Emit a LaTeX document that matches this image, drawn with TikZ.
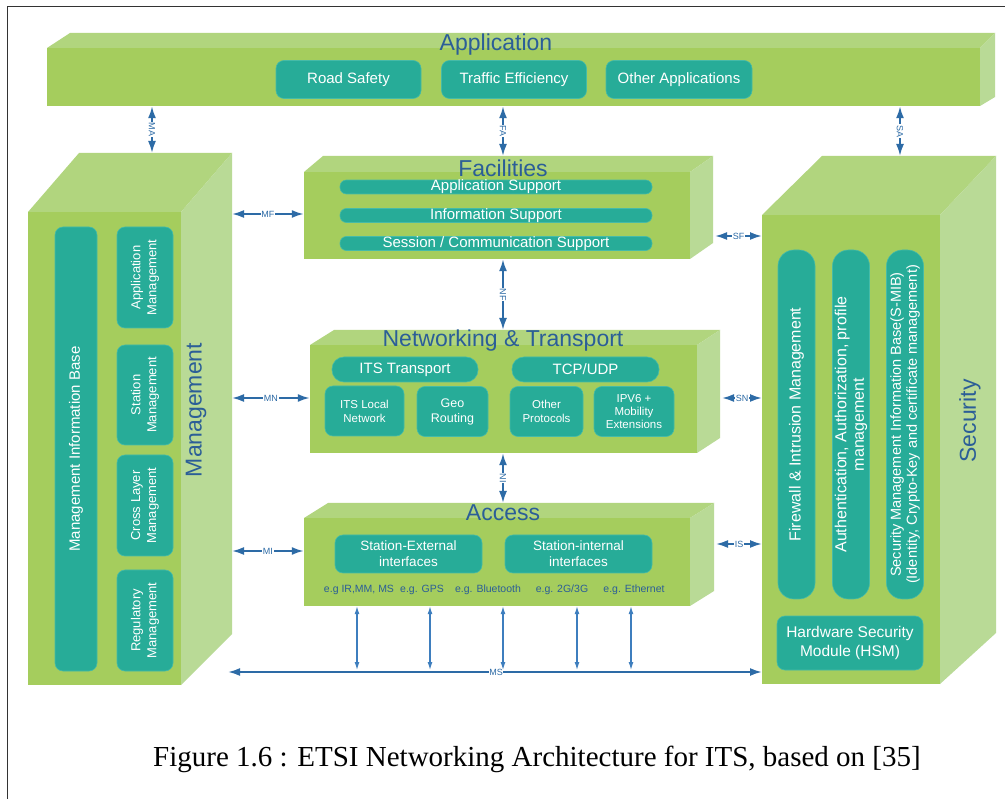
\documentclass[tikz,border=0pt]{standalone}
\usepackage{fontspec}
\setmainfont{Liberation Serif}
\newfontfamily\arial{Liberation Sans}
\usetikzlibrary{arrows.meta}
\definecolor{frontc}{HTML}{A5CD5D}
\definecolor{topc}{HTML}{B1D57E}
\definecolor{sidec}{HTML}{B9DA96}
\definecolor{tealc}{HTML}{27AC98}
\definecolor{tealedge}{HTML}{45BBA8}
\definecolor{titlec}{HTML}{2B5E97}
\definecolor{arrc}{HTML}{2D6BA6}
\definecolor{thinc}{HTML}{3E7EBE}
\newcommand\fs[2]{\fontsize{#1}{#2}\selectfont}
\newcommand\layer[9]{%
  \fill[topc] (#2,#3)--(#6,#8)--(#7,#8)--(#4,#3)--cycle;
  \fill[sidec] (#4,#3)--(#7,#8)--(#7,#9)--(#4,#5)--cycle;
  \node[fill=frontc, inner sep=0pt, minimum width={#4pt-#2pt}, minimum height={#5pt-#3pt}] (#1) at ({(#2+#4)/2},{(#3+#5)/2}) {};
}
\tikzset{
  inbox/.style={fill=tealc, draw=tealedge, line width=0.6pt, rounded corners=8pt, text=white, align=center, inner sep=0pt, font=\arial},
  pill/.style={fill=tealc, draw=tealedge, line width=0.6pt, rounded corners=6.4pt, text=white, align=center, inner sep=0pt, font=\arial\fs{15}{16}},
  ttl/.style={text=titlec, font=\arial\fs{23}{26}},
  arr/.style={draw=arrc, line width=2pt, {Latex[length=12pt,width=8pt]}-{Latex[length=12pt,width=8pt]}},
  thinarr/.style={draw=thinc, line width=1.2pt, {Latex[length=8pt,width=5pt]}-{Latex[length=8pt,width=5pt]}},
  lab/.style={fill=white, text=arrc, inner sep=0.6pt, font=\arial\fs{9}{9}},
  eg/.style={text=titlec, font=\arial\fs{10.5}{12}},
}
\begin{document}
\begin{tikzpicture}[x=1pt,y=-1pt]
\useasboundingbox (0,0) rectangle (1005,799);
\fill[white] (0,0) rectangle (1005,799);
\draw[line width=1.4pt, black!80] (7.5,799) -- (7.5,6.5) -- (1005,6.5);

% Application
\layer{app}{47}{48}{980}{106}{70}{995}{33}{97}
\node[ttl] (appt) at (496,45) {Application};
\node[inbox, font=\arial\fs{15}{17}, minimum width=145pt, minimum height=38pt] (rs) at (348.5,79.5) {Road Safety};
\node[inbox, font=\arial\fs{15}{17}, minimum width=145pt, minimum height=38pt] (te) at (514,79.5) {Traffic Efficiency};
\node[inbox, font=\arial\fs{15}{17}, minimum width=146pt, minimum height=38pt] (oa) at (679,79.5) {Other Applications};

% Management
\layer{mg}{28}{212}{181}{685}{79}{232}{153}{634}
\node[inbox, minimum width=42pt, minimum height=444pt] (mib) at (76,449) {};
\node[text=white, font=\arial\fs{15}{17}, rotate=90] (mibt) at (mib.center) {Management Information Base};
\node[inbox, minimum width=56pt, minimum height=101pt] (amg) at (145,277.5) {};
\node[text=white, align=center, font=\arial\fs{13}{16}, rotate=90] (amgt) at (amg.center) {Application\\Management};
\node[inbox, minimum width=56pt, minimum height=100pt] (smg) at (145,395) {};
\node[text=white, align=center, font=\arial\fs{13}{16}, rotate=90] (smgt) at (smg.center) {Station\\Management};
\node[inbox, minimum width=56pt, minimum height=101pt] (cmg) at (145,505.5) {};
\node[text=white, align=center, font=\arial\fs{13}{16}, rotate=90] (cmgt) at (cmg.center) {Cross Layer\\Management};
\node[inbox, minimum width=56pt, minimum height=101pt] (rmg) at (145,620.5) {};
\node[text=white, align=center, font=\arial\fs{13}{16}, rotate=90] (rmgt) at (rmg.center) {Regulatory\\Management};
\node[ttl, rotate=90] (mgt) at (196,410) {Management};

% Security
\layer{sec}{762}{215}{940}{684}{822}{996}{156}{633}
\node[inbox, rounded corners=16pt, minimum width=37pt, minimum height=349pt] (fw) at (796.5,424.5) {};
\node[text=white, font=\arial\fs{16}{18}, rotate=90] (fwt) at (fw.center) {Firewall \& Intrusion Management};
\node[inbox, rounded corners=16pt, minimum width=37pt, minimum height=349pt] (au) at (851,424.5) {};
\node[text=white, align=center, font=\arial\fs{16}{17.5}, rotate=90] (aut) at (au.center) {Authentication, Authorization, profile\\management};
\node[inbox, rounded corners=16pt, minimum width=37pt, minimum height=349pt] (sm) at (905,424.5) {};
\node[text=white, align=center, font=\arial\fs{14.5}{16}, rotate=90] (smt) at (sm.center) {Security Management Information Base(S-MIB)\\(Identity, Crypto-Key and certificate management)};
\node[inbox, font=\arial\fs{15.5}{19}, minimum width=146pt, minimum height=54pt] (hsm) at (850,643) {Hardware Security\\Module (HSM)};
\node[ttl, rotate=90] (sect) at (970,421) {Security};

% Facilities
\layer{fac}{304}{172}{690}{259}{323}{713}{156}{243}
\node[ttl] (fact) at (503,168) {Facilities};
\node[pill, minimum width=312pt, minimum height=13pt] (as) at (496,187) {Application Support};
\node[pill, minimum width=312pt, minimum height=13pt] (is) at (496,215.5) {Information Support};
\node[pill, minimum width=312pt, minimum height=13pt] (cs) at (496,243.5) {Session / Communication Support};

% Networking & Transport
\layer{net}{310}{345}{697}{453}{334}{720}{330}{438}
\node[ttl] (nett) at (503,341) {Networking \& Transport};
\node[inbox, rounded corners=12pt, font=\arial\fs{15}{17}, minimum width=146pt, minimum height=25pt] (itst) at (405,369.5) {ITS Transport};
\node[inbox, rounded corners=12pt, font=\arial\fs{15}{17}, minimum width=147pt, minimum height=25pt] (tcp) at (585.5,369.5) {TCP/UDP};
\node[inbox, font=\arial\fs{11.5}{14}, minimum width=79pt, minimum height=50pt] (itsl) at (364.5,411) {ITS Local\\Network};
\node[inbox, font=\arial\fs{12.5}{15}, minimum width=71pt, minimum height=50pt] (geo) at (452.5,411.5) {Geo\\Routing};
\node[inbox, font=\arial\fs{11.5}{14}, minimum width=73pt, minimum height=50pt] (oth) at (546.5,411.5) {Other\\Protocols};
\node[inbox, font=\arial\fs{11.5}{13}, minimum width=80pt, minimum height=50pt] (ipv) at (634,411.5) {IPV6 +\\Mobility\\Extensions};

% Access
\layer{acc}{304}{518}{690}{606}{328}{714}{503}{591}
\node[ttl] (acct) at (503,513) {Access};
\node[inbox, font=\arial\fs{13.5}{16}, minimum width=147pt, minimum height=38pt] (sext) at (408.5,554) {Station-External\\interfaces};
\node[inbox, font=\arial\fs{13.5}{16}, minimum width=147pt, minimum height=38pt] (sint) at (578.5,554) {Station-internal\\interfaces};
\node[eg] (eg1) at (359,590) {e.g IR,MM, MS};
\node[eg] (eg2) at (422,590) {e.g. GPS};
\node[eg] (eg3) at (488,590) {e.g. Bluetooth};
\node[eg] (eg4) at (562,590) {e.g. 2G/3G};
\node[eg] (eg5) at (634,590) {e.g. Ethernet};

% connector end points
\coordinate (mgTop) at (152,153);
\coordinate (facTop) at (503,156);
\coordinate (secTop) at (900,156);
\coordinate (mgR1) at (232,214);
\coordinate (mgR2) at (232,398);
\coordinate (mgR3) at (232,551);
\coordinate (mgR4) at (228,672);
\coordinate (secL1) at (762,236);
\coordinate (secL2) at (762,398);
\coordinate (secL3) at (762,544);
\coordinate (secL4) at (762,672);
\coordinate (facR) at (715,236);
\coordinate (netR) at (722,398);
\coordinate (accR) at (716,544);
\coordinate (netTop) at (503,330);
\coordinate (accTop) at (503,503);

% vertical connectors
\draw[arr] (app.south -| mgTop) -- node[lab, rotate=-90] {MA} (mgTop);
\draw[arr] (app.south -| facTop) -- node[lab, rotate=-90] {FA} (facTop);
\draw[arr] (app.south -| secTop) -- node[lab, rotate=-90] {SA} (secTop);
\draw[arr] (fac.south -| netTop) -- node[lab, rotate=-90] {NF} (netTop);
\draw[arr] (net.south -| accTop) -- node[lab, rotate=-90] {NI} (accTop);

% horizontal connectors
\draw[arr] (mgR1) -- node[lab] {MF} (fac.west |- mgR1);
\draw[arr] (mgR2) -- node[lab] {MN} (net.west |- mgR2);
\draw[arr] (mgR3) -- node[lab] {MI} (acc.west |- mgR3);
\draw[arr] (facR) -- node[lab] {SF} (secL1);
\draw[arr] (netR) -- node[lab] {SN} (secL2);
\draw[arr] (accR) -- node[lab] {IS} (secL3);
\draw[arr] (mgR4) -- node[lab, pos=0.502] {MS} (secL4);

% access to MS bus
\foreach \x/\n in {357/a,430/b,503/c,577/d,631/e} {
  \coordinate (bus\n) at (\x,670);
  \draw[thinarr] (acc.south -| bus\n) -- (bus\n);
}

% caption
\node[font=\fs{29}{32}, anchor=base] (cap) at (537,766) {Figure 1.6 : ETSI Networking Architecture for ITS, based on [35]};
\end{tikzpicture}
\end{document}
